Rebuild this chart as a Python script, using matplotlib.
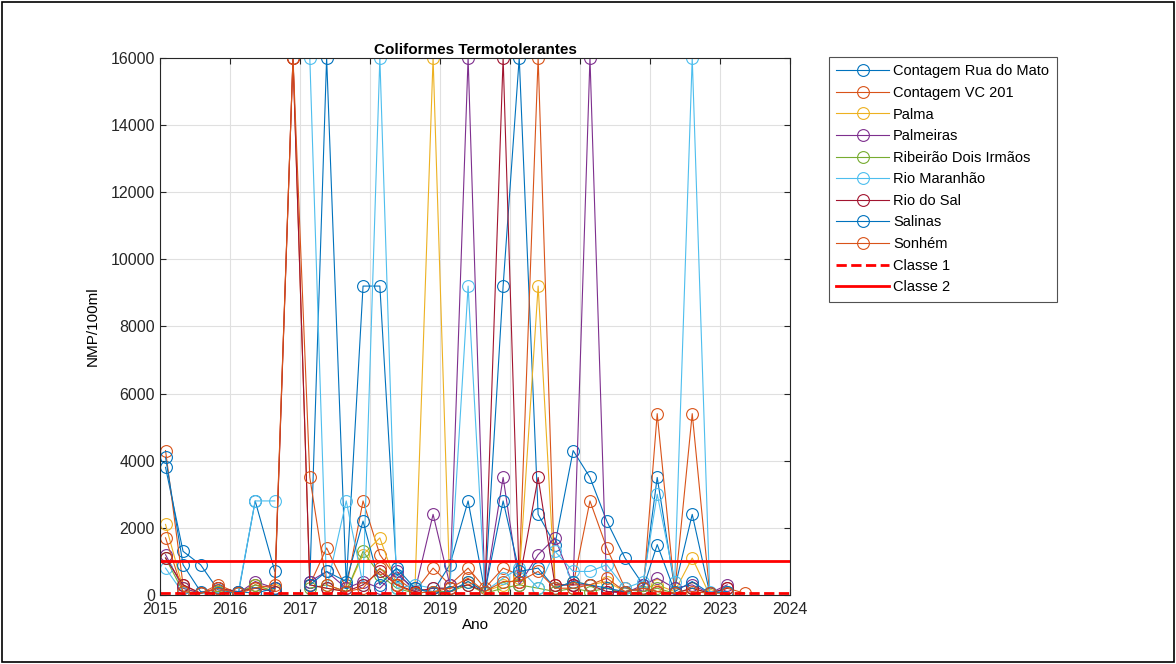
import numpy as np
import matplotlib
matplotlib.use("Agg")
import matplotlib.pyplot as plt
from matplotlib.patches import Rectangle

plt.rcParams['font.family'] = ['Liberation Sans', 'DejaVu Sans']

nan = np.nan

# datas das coletas (ano decimal)
datas = [2015.08, 2015.33, 2015.58, 2015.83, 2016.12, 2016.36, 2016.64, 2016.9,
         2017.14, 2017.38, 2017.66, 2017.9, 2018.14, 2018.38, 2018.64, 2018.9,
         2019.14, 2019.4, 2019.64, 2019.9, 2020.13, 2020.4, 2020.64, 2020.9,
         2021.14, 2021.38, 2021.64, 2021.9, 2022.1, 2022.35, 2022.6, 2022.85,
         2023.1, 2023.35]

rua_do_mato = [3800, 1300, 900, 150, 50, 2800, 700, nan, 400, 16000, 300, 9200, 9200, 600, 200, 100,
               900, 2800, 100, 9200, 16000, 2400, 1500, 4300, 3500, 2200, 1100, 300, 3500, 200, 2400, 50,
               100, nan]
vc_201 = [4300, 300, 50, 300, 50, 300, 200, 16000, 300, 1400, 200, 2800, 1200, 500, 100, 800,
          300, 800, 200, 800, 600, 16000, 300, 300, 2800, 1400, 200, 100, 5400, 100, 5400, 50,
          200, 50]
palma = [2100, 200, 50, 100, nan, 200, 150, nan, 300, 200, 100, 1200, 1700, 300, 100, 16000,
         100, 400, 100, 300, 500, 9200, 200, 400, 300, 400, 100, 200, 300, 100, 1100, 0,
         nan, nan]
palmeiras = [1200, 200, 50, 200, 50, 400, 200, nan, 400, 700, 200, 400, 200, 700, 100, 2400,
             300, 16000, 100, 3500, 300, 1200, 1700, 300, 16000, 100, 50, 300, 500, 200, 300, 50,
             300, nan]
dois_irmaos = [1100, 100, 50, 100, 50, 300, 100, nan, 200, 300, 100, 1300, 600, 200, 50, 100,
               100, 300, 50, 200, 300, 200, 100, 200, 100, 200, 50, 100, 200, 50, 200, 50,
               100, nan]
maranhao = [800, 50, 50, 50, 100, 2800, 2800, nan, 16000, 200, 2800, 300, 16000, 200, 300, 200,
            200, 9200, 100, 500, 800, 200, 1300, 700, 700, 900, 200, 400, 3000, 400, 16000, 100,
            100, nan]
rio_do_sal = [1100, 300, 50, 200, 100, 200, 100, 16000, 300, 200, 100, 300, 700, 300, 100, 200,
              200, 300, 100, 16000, 400, 3500, 300, 300, 300, 100, 100, 200, 100, 50, 200, 50,
              200, nan]
salinas = [4100, 900, 100, 50, 100, 50, 200, nan, 300, 700, 400, 2200, 300, 800, 200, 50,
           100, 400, 100, 2800, 700, 800, 200, 400, 300, 200, 100, 200, 1500, 100, 400, 50,
           100, nan]
sonhem = [1700, 100, 50, 200, 50, 200, 300, 16000, 3500, 300, 100, 200, 800, 300, 50, 100,
          200, 500, 100, 400, 400, 700, 200, 200, 300, 500, 100, 200, 100, 50, 100, 50,
          50, nan]

nomes = ["Contagem Rua do Mato", "Contagem VC 201", "Palma", "Palmeiras",
         "Ribeirão Dois Irmãos", "Rio Maranhão", "Rio do Sal", "Salinas", "Sonhém"]
series = [rua_do_mato, vc_201, palma, palmeiras, dois_irmaos, maranhao, rio_do_sal, salinas, sonhem]
cores = ['#0072BD', '#D95319', '#EDB120', '#7E2F8E', '#77AC30', '#4DBEEE', '#A2142F',
         '#0072BD', '#D95319']

classe_x = [2015, 2024]
classe1 = [50, 50]
classe2 = [1000, 1000]

fig = plt.figure(figsize=(11.76, 6.64), dpi=100)
ax = fig.add_axes([0.136, 0.104, 0.536, 0.809])

for nome, vals, cor in zip(nomes, series, cores):
    ax.plot(datas, vals, '-o', color=cor, mfc='none', ms=8.5, lw=0.8, mew=0.8, label=nome)

ax.plot(classe_x, classe1, '--', color='red', lw=2, label='Classe 1')
ax.plot(classe_x, classe2, '-', color='red', lw=2, label='Classe 2')

ax.set_xlim(2015, 2024)
ax.set_ylim(0, 16000)
ax.set_xticks(range(2015, 2025))
ax.set_yticks(range(0, 16001, 2000))
ax.grid(True, color='#e0e0e0', lw=0.8)
ax.set_axisbelow(True)
ax.tick_params(direction='in', top=True, right=True, labelsize=11.5, colors='#262626', length=4)
ax.tick_params(axis='x', pad=5)
for s in ax.spines.values():
    s.set_color('#262626')
    s.set_linewidth(0.8)

ax.set_title('Coliformes Termotolerantes', fontsize=11, fontweight='bold', pad=3)
ax.set_xlabel('Ano', fontsize=11, labelpad=1)
ax.set_ylabel('NMP/100ml', fontsize=11, labelpad=8)

leg = ax.legend(loc='upper left', bbox_to_anchor=(0.705, 0.914), bbox_transform=fig.transFigure,
                fontsize=10.5, frameon=True, fancybox=False, edgecolor='#262626',
                labelspacing=0.52, handlelength=3.6, borderpad=0.5, handletextpad=0.3,
                borderaxespad=0)
leg.get_frame().set_linewidth(0.8)

fig.patches.append(Rectangle((0.002, 0.003), 0.996, 0.994, transform=fig.transFigure,
                             fill=False, edgecolor='black', lw=1.2))

fig.savefig('out.png', dpi=100)
